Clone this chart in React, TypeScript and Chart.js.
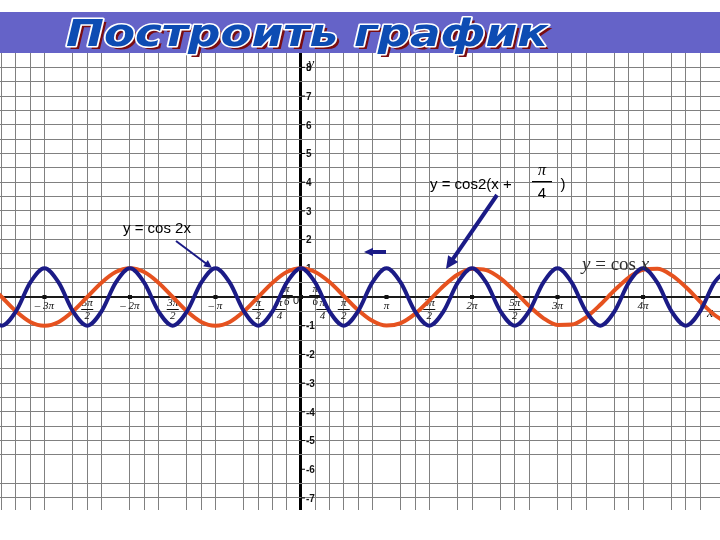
import React, { useEffect, useRef } from "react";
import { Chart, registerables } from "chart.js";

Chart.register(...registerables);

// x is measured in grid cells of π/6; samples start at k = -22
const TITLE = "Построить график";
const K_START = -22;
const COS2X = [
  -0.5, -1, -0.5, 0.5, 1, 0.5, -0.5, -1, -0.5, 0.5, 1, 0.5, -0.5, -1, -0.5, 0.5,
  1, 0.5, -0.5, -1, -0.5, 0.5, 1, 0.5, -0.5, -1, -0.5, 0.5, 1, 0.5, -0.5, -1,
  -0.5, 0.5, 1, 0.5, -0.5, -1, -0.5, 0.5, 1, 0.5, -0.5, -1, -0.5, 0.5, 1, 0.5,
  -0.5, -1, -0.5, 0.5, 1,
];
const COSX = [
  0.5, 0, -0.5, -0.87, -1, -0.87, -0.5, 0, 0.5, 0.87, 1, 0.87, 0.5, 0, -0.5,
  -0.87, -1, -0.87, -0.5, 0, 0.5, 0.87, 1, 0.873, 0.522, 0.039, -0.454, -0.831,
  -0.997, -0.908, -0.588, -0.118, 0.383, 0.785, 0.988, 0.938, 0.649, 0.195,
  -0.309, -0.734, -0.972, -0.962, -0.707, -0.271, 0.233, 0.679, 0.951, 0.981,
  0.76, 0.346, -0.156, -0.619, -0.924,
];

const X_MIN = -21.12;
const X_MAX = 29.4;
const Y_MIN = -7.42;
const Y_MAX = 8.5;

// grid lines that are absent in the scanned reference
const X_GRID_SKIP = [-17, -13, -9, -5, 6, 10, 13, 17, 21, 25, 29];
const Y_GRID_SKIP = [-6];

const Y_LABEL_VALUES = [8, 7, 6, 5, 4, 3, 2, 1, -1, -2, -3, -4, -5, -6, -7];
const Y_LABELS = ["8", "7", "6", "5", "4", "3", "2", "1", "-1", "-2", "-3", "-4", "-5", "-6", "-7"];

const X_LABEL_POS = [-18, -15, -12, -9, -6, -3, -1.5, -1, 1, 1.5, 3, 6, 9, 12, 15, 18, 24];
const X_LABEL_NUM = ["– 3π", "5π", "– 2π", "3π", "– π", "π", "π", "π", "π", "π", "π", "π", "3π", "2π", "5π", "3π", "4π"];
const X_LABEL_DEN = ["", "2", "", "2", "", "2", "4", "6", "6", "4", "2", "", "2", "", "2", "", ""];
const X_LABEL_ABOVE = [false, false, false, false, false, false, false, true, true, false, false, false, false, false, false, false, false];
const X_DOTS = [-18, -12, -6, 0, 6, 12, 18, 24];

const BLUE = "#1b1b86";
const ORANGE = "#e6521f";

function arrow(ctx: CanvasRenderingContext2D, x1: number, y1: number, x2: number, y2: number, w: number, head: number) {
  const a = Math.atan2(y2 - y1, x2 - x1);
  ctx.save();
  ctx.strokeStyle = BLUE;
  ctx.fillStyle = BLUE;
  ctx.lineWidth = w;
  ctx.beginPath();
  ctx.moveTo(x1, y1);
  ctx.lineTo(x2 - Math.cos(a) * head * 0.6, y2 - Math.sin(a) * head * 0.6);
  ctx.stroke();
  ctx.beginPath();
  ctx.moveTo(x2, y2);
  ctx.lineTo(x2 - Math.cos(a - 0.45) * head, y2 - Math.sin(a - 0.45) * head);
  ctx.lineTo(x2 - Math.cos(a + 0.45) * head, y2 - Math.sin(a + 0.45) * head);
  ctx.closePath();
  ctx.fill();
  ctx.restore();
}

const decor = {
  id: "decor",
  beforeDraw(chart: any) {
    const ctx = chart.ctx;
    ctx.save();
    ctx.fillStyle = "#ffffff";
    ctx.fillRect(0, 0, chart.width, chart.height);
    ctx.restore();
  },
  beforeDatasetsDraw(chart: any) {
    const ctx = chart.ctx;
    const xs = chart.scales.x;
    const ys = chart.scales.y;
    const x0 = xs.getPixelForValue(0);
    const y0 = ys.getPixelForValue(0);
    ctx.save();
    // y labels
    ctx.fillStyle = "#111";
    ctx.strokeStyle = "#000";
    ctx.lineWidth = 1;
    ctx.font = "bold 10px 'Liberation Sans', Arial";
    ctx.textBaseline = "middle";
    ctx.textAlign = "left";
    Y_LABEL_VALUES.forEach((v, i) => {
      const py = ys.getPixelForValue(v);
      ctx.beginPath();
      ctx.moveTo(x0, py);
      ctx.lineTo(x0 + 4, py);
      ctx.stroke();
      ctx.fillText(Y_LABELS[i], x0 + 5, py + 1);
    });
    // dots
    X_DOTS.forEach((v) => {
      const px = xs.getPixelForValue(v);
      ctx.fillRect(px - 2, y0 - 2, 4, 4);
    });
    // x labels
    ctx.textAlign = "center";
    ctx.font = "italic 11px 'Liberation Serif', serif";
    X_LABEL_POS.forEach((v, i) => {
      const px = xs.getPixelForValue(v);
      const num = X_LABEL_NUM[i];
      const den = X_LABEL_DEN[i];
      if (!den) {
        ctx.fillText(num, px, y0 + 9);
        return;
      }
      const top = X_LABEL_ABOVE[i] ? y0 - 8 : y0 + 6;
      ctx.fillText(num, px, top);
      ctx.fillRect(px - 6, top + 6, 12, 1);
      ctx.fillText(den, px, top + 13);
    });
    ctx.font = "11px 'Liberation Sans', Arial";
    ctx.fillText("0", x0 - 5, y0 + 4);
    ctx.font = "italic 14px 'Liberation Serif', serif";
    ctx.fillText("x", 710, y0 + 16);
    ctx.fillText("y", x0 + 10, 64);
    ctx.restore();
  },
  afterDatasetsDraw(chart: any) {
    const ctx = chart.ctx;
    ctx.save();
    ctx.fillStyle = "#000";
    ctx.textBaseline = "middle";
    ctx.textAlign = "left";
    ctx.font = "15px 'Liberation Sans', Arial";
    ctx.fillText("y = cos 2x", 123, 229);
    ctx.fillText("y = cos2(x +", 430, 185);
    ctx.textAlign = "center";
    ctx.font = "italic 16px 'Liberation Serif', serif";
    ctx.fillText("π", 542, 171);
    ctx.fillRect(532, 181, 20, 1.2);
    ctx.font = "15px 'Liberation Sans', Arial";
    ctx.fillText("4", 542, 194);
    ctx.fillText(")", 563, 185);
    // y = cos x (serif)
    ctx.fillStyle = "#2e2e2e";
    ctx.textAlign = "left";
    let x = 582;
    ctx.font = "italic 19px 'Liberation Serif', serif";
    ctx.fillText("y", x, 265);
    x += ctx.measureText("y").width;
    ctx.font = "19px 'Liberation Serif', serif";
    ctx.fillText(" = cos ", x, 265);
    x += ctx.measureText(" = cos ").width;
    ctx.font = "italic 19px 'Liberation Serif', serif";
    ctx.fillText("x", x, 265);
    ctx.restore();
    arrow(ctx, 176, 241, 212, 268, 2, 9);
    arrow(ctx, 497, 195, 446, 269, 4, 14);
    arrow(ctx, 386, 252, 364, 252, 4, 10);
  },
  afterDraw(chart: any) {
    const ctx = chart.ctx;
    ctx.save();
    ctx.fillStyle = "#6563c8";
    ctx.fillRect(0, 12, 720, 41);
    ctx.font = "italic bold 38px 'DejaVu Sans', sans-serif";
    ctx.textBaseline = "alphabetic";
    ctx.textAlign = "left";
    const w = ctx.measureText(TITLE).width;
    ctx.translate(66, 46);
    ctx.scale(482 / w, 1);
    ctx.fillStyle = "#7a0c10";
    ctx.fillText(TITLE, 3, 3);
    ctx.lineJoin = "round";
    ctx.strokeStyle = "#ffffff";
    ctx.lineWidth = 3;
    ctx.strokeText(TITLE, 0, 0);
    ctx.fillStyle = "#0d4cb3";
    ctx.fillText(TITLE, 0, 0);
    ctx.restore();
  },
};

function gridColor(skip: number[], axisColor: string) {
  return (c: any) => {
    const v = c.tick ? c.tick.value : NaN;
    if (v === 0) return axisColor;
    if (skip.includes(v)) return "rgba(0,0,0,0)";
    return "#808080";
  };
}

export default function App() {
  const ref = useRef<HTMLCanvasElement>(null);
  useEffect(() => {
    if (!ref.current) return;
    const blue = COS2X.map((y, i) => ({ x: K_START + i, y }));
    const orange = COSX.map((y, i) => ({ x: K_START + i, y }));
    const chart = new Chart(ref.current, {
      type: "line",
      data: {
        datasets: [
          { data: blue, borderColor: BLUE, borderWidth: 4, pointRadius: 0, cubicInterpolationMode: "monotone", fill: false },
          { data: orange, borderColor: ORANGE, borderWidth: 4, pointRadius: 0, cubicInterpolationMode: "monotone", fill: false },
        ],
      },
      options: {
        responsive: false,
        animation: false,
        events: [],
        layout: { padding: { top: 53, bottom: 30, left: 0, right: 0 } },
        plugins: { legend: { display: false }, tooltip: { enabled: false } },
        scales: {
          x: {
            type: "linear",
            min: X_MIN,
            max: X_MAX,
            afterBuildTicks: (s: any) => {
              const t = [];
              for (let v = Math.ceil(X_MIN); v <= Math.floor(X_MAX); v++) t.push({ value: v });
              s.ticks = t;
            },
            ticks: { display: false },
            border: { display: false },
            grid: {
              drawTicks: false,
              color: gridColor(X_GRID_SKIP, "#000"),
              lineWidth: (c: any) => (c.tick && c.tick.value === 0 ? 3 : 1),
            },
          },
          y: {
            type: "linear",
            min: Y_MIN,
            max: Y_MAX,
            afterBuildTicks: (s: any) => {
              const t = [];
              for (let v = -7; v <= 8; v += 0.5) t.push({ value: v });
              s.ticks = t;
            },
            ticks: { display: false },
            border: { display: false },
            grid: {
              drawTicks: false,
              color: gridColor(Y_GRID_SKIP, "#1a1a1a"),
              lineWidth: (c: any) => (c.tick && c.tick.value === 0 ? 2 : 1),
            },
          },
        },
      },
      plugins: [decor],
    });
    return () => chart.destroy();
  }, []);
  return (
    <div style={{ position: "absolute", left: 0, top: 0, width: 720, height: 540 }}>
      <canvas ref={ref} width={720} height={540} />
    </div>
  );
}
